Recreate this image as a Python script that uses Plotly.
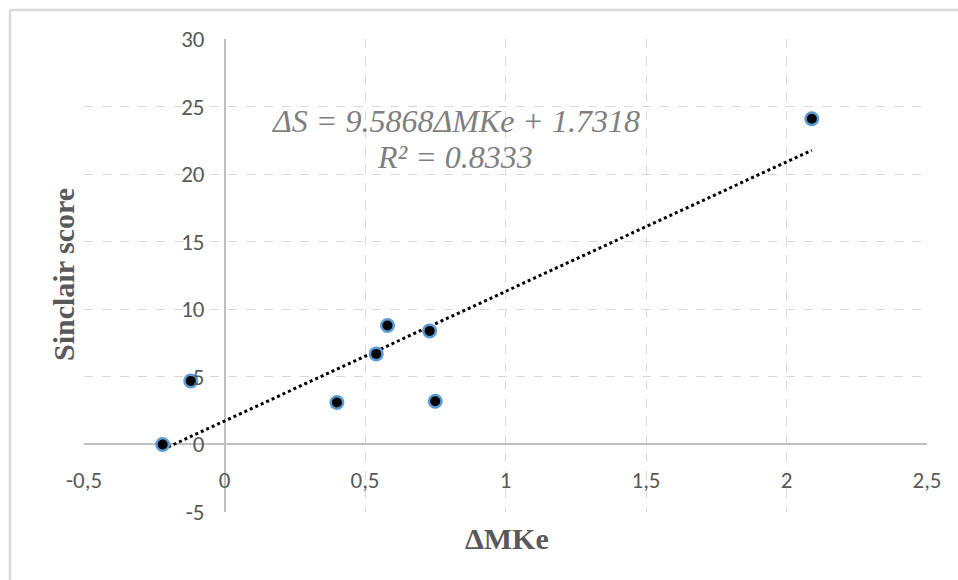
import plotly.graph_objects as go

# ---- data ----
mke_delta = [-0.22, -0.12, 0.40, 0.54, 0.58, 0.73, 0.75, 2.09]
sinclair_score = [0.0, 4.7, 3.1, 6.7, 8.8, 8.4, 3.2, 24.1]

trend_slope = 9.5868
trend_intercept = 1.7318
r_squared = 0.8333

x_tickvals = [-0.5, 0, 0.5, 1, 1.5, 2, 2.5]
x_ticktext = ["-0,5", "0", "0,5", "1", "1,5", "2", "2,5"]
y_tickvals = [-5, 0, 5, 10, 15, 20, 25, 30]
y_ticktext = ["-5", "0", "5", "10", "15", "20", "25", "30"]

x_title = "ΔMKe"
y_title = "Sinclair score"

# ---- figure ----
W, H = 958, 580
ml, mr, mt, mb = 84, 31, 39, 68
pw, ph = W - ml - mr, H - mt - mb
xr = [-0.5, 2.5]
yr = [-5, 30]

def px2paper_x(px):
    return (px - ml) / pw

def px2paper_y(py):
    return (H - mb - py) / ph

trend_x = [min(mke_delta), max(mke_delta)]
trend_y = [trend_slope * v + trend_intercept for v in trend_x]

tick_font = dict(family="Carlito, Noto Sans, sans-serif", size=23, color="#595959")
serif = "Liberation Serif, Times New Roman, serif"
title_font = dict(family=serif, size=30, color="#595959")
eq_font = dict(family=serif, size=32, color="#7f7f7f")

fig = go.Figure()
fig.add_trace(go.Scatter(
    x=trend_x, y=trend_y, mode="lines",
    line=dict(color="black", width=3, dash="dot"),
    hoverinfo="skip", showlegend=False,
))
fig.add_trace(go.Scatter(
    x=mke_delta, y=sinclair_score, mode="markers",
    marker=dict(color="black", size=12.5, line=dict(color="#5b9bd5", width=2.5)),
    showlegend=False,
))

grid = dict(showgrid=True, gridcolor="#d9d9d9", griddash="dash", gridwidth=1,
            zeroline=True, zerolinecolor="#c0c0c0", zerolinewidth=1.5,
            showline=False, ticks="", tickfont=tick_font)

fig.update_layout(
    width=W, height=H,
    margin=dict(l=ml, r=mr, t=mt, b=mb),
    paper_bgcolor="white", plot_bgcolor="white",
    xaxis=dict(range=xr, tickvals=x_tickvals, ticktext=x_ticktext,
               anchor="free", position=(0 - yr[0]) / (yr[1] - yr[0]),
               ticklabelstandoff=20, **grid),
    yaxis=dict(range=yr, tickvals=y_tickvals, ticktext=y_ticktext,
               anchor="free", position=(0 - xr[0]) / (xr[1] - xr[0]),
               ticklabelstandoff=20, **grid),
    annotations=[
        dict(text="<i>ΔS = %.4fΔMKe + %.4f</i>" % (trend_slope, trend_intercept),
             x=0.822, y=23.9, xref="x", yref="y", xanchor="center", yanchor="middle",
             showarrow=False, font=eq_font),
        dict(text="<i>R² = %.4f</i>" % r_squared,
             x=0.822, y=21.3, xref="x", yref="y", xanchor="center", yanchor="middle",
             showarrow=False, font=eq_font),
        dict(text="<b>%s</b>" % x_title, x=px2paper_x(507), y=px2paper_y(538),
             xref="paper", yref="paper", xanchor="center", yanchor="middle",
             showarrow=False, font=title_font),
        dict(text="<b>%s</b>" % y_title, x=px2paper_x(63), y=px2paper_y(275),
             xref="paper", yref="paper", xanchor="center", yanchor="middle",
             showarrow=False, textangle=-90, font=title_font),
    ],
    shapes=[
        dict(type="line", xref="paper", yref="paper",
             x0=px2paper_x(10), x1=px2paper_x(W + 20), y0=px2paper_y(10), y1=px2paper_y(10),
             line=dict(color="#d9d9d9", width=2.5)),
        dict(type="line", xref="paper", yref="paper",
             x0=px2paper_x(10), x1=px2paper_x(10), y0=px2paper_y(10), y1=px2paper_y(H + 20),
             line=dict(color="#d9d9d9", width=2.5)),
    ],
)

fig.write_html(
    "out.html",
    config={"displayModeBar": False},
    post_script="document.body.style.margin='0';document.body.style.overflow='hidden';",
)
